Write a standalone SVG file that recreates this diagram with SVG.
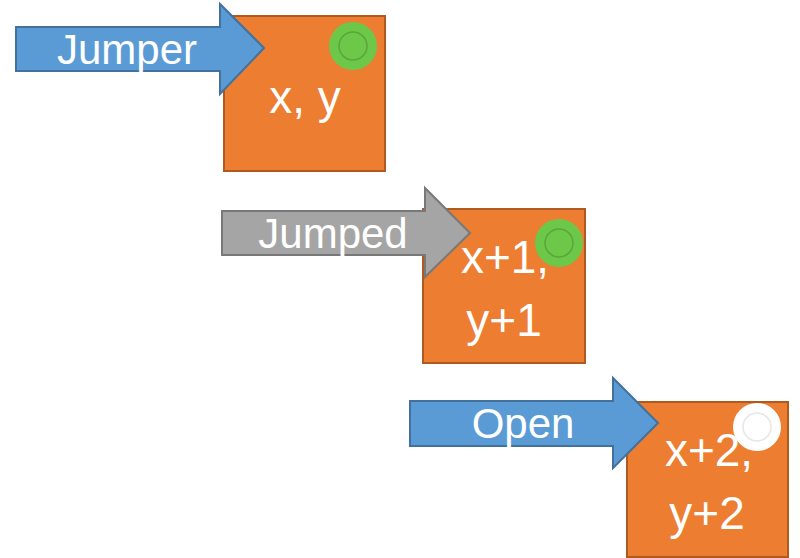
<svg xmlns="http://www.w3.org/2000/svg" width="800" height="558" viewBox="0 0 800 558">
<style>
.box{fill:#ED7D31;stroke:#AE5A21;stroke-width:2}
.blue{fill:#5B9BD5;stroke:#41719C;stroke-width:2}
.gray{fill:#A5A5A5;stroke:#787878;stroke-width:2}
.t{font-family:"Liberation Sans",Arial,sans-serif;font-size:42px;fill:#FFFFFF;text-anchor:middle}
.b{font-family:"Liberation Sans",Arial,sans-serif;font-size:46px;fill:#FFFFFF;text-anchor:middle}
.gdot{fill:#6DC849}
.gin{fill:none;stroke:#5BA63B;stroke-width:1.5}
.wdot{fill:#FFFFFF}
.win{fill:none;stroke:#E6E6E6;stroke-width:1.5}
</style>
<rect width="800" height="558" fill="#FFFFFF"/>
<g id="node1">
<rect class="box" x="224" y="16" width="161" height="155"/>
<circle class="gdot" cx="353" cy="46" r="24"/>
<circle class="gin" cx="353" cy="46" r="14"/>
<text class="b" x="305" y="113">x, y</text>
</g>
<g id="node2">
<rect class="box" x="423" y="209" width="162" height="154"/>
<circle class="gdot" cx="559" cy="243" r="24"/>
<circle class="gin" cx="559" cy="243" r="14"/>
<text class="b" x="505" y="273">x+1,</text>
<text class="b" x="504" y="336">y+1</text>
</g>
<g id="node3">
<rect class="box" x="627" y="402" width="161" height="155"/>
<circle class="wdot" cx="757" cy="427" r="24"/>
<circle class="win" cx="757" cy="427" r="14"/>
<text class="b" x="709" y="466">x+2,</text>
<text class="b" x="707" y="529">y+2</text>
</g>
<g id="connectors">
<g id="arrow-jumper">
<polygon class="blue" points="16,27 220,27 220,4 264,48 220,94 220,71 16,71"/>
<text class="t" x="127" y="64">Jumper</text>
</g>
<g id="arrow-jumped">
<polygon class="gray" points="222,211 425,211 425,188 470,233 425,277 425,255 222,255"/>
<text class="t" x="333" y="248">Jumped</text>
</g>
<g id="arrow-open">
<polygon class="blue" points="410,401 613,401 613,378 658,423 613,468 613,446 410,446"/>
<text class="t" x="523" y="438">Open</text>
</g>
</g>
</svg>
